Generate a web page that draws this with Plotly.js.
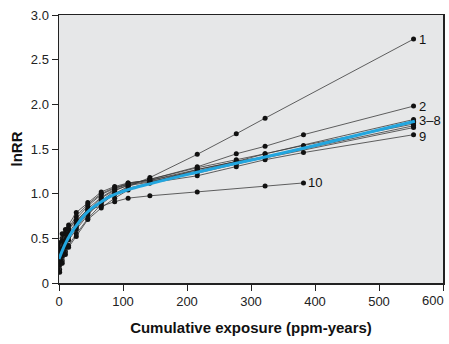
<!DOCTYPE html>
<html>
<head>
<meta charset="utf-8">
<script src="https://cdn.plot.ly/plotly-3.0.1.min.js"></script>
<style>html,body{margin:0;padding:0;background:#fff;}#chart{width:449px;height:344px;}</style>
</head>
<body>
<div id="chart"></div>
<script>
// Exposure points (ppm-years) for each line
const xFull   = [1, 5, 10, 15, 27, 45, 66, 87, 108, 142, 216, 277, 322, 554];
const xWith382 = [1, 5, 10, 15, 27, 45, 66, 87, 108, 142, 216, 277, 322, 382, 554];
const x10     = [1, 5, 10, 15, 27, 45, 66, 87, 108, 142, 216, 322, 382];

// lnRR values
const line1  = [0.15, 0.25, 0.35, 0.42, 0.55, 0.72, 0.88, 1.00, 1.08, 1.18, 1.44, 1.67, 1.845, 2.73];
const line2  = [0.20, 0.30, 0.40, 0.48, 0.60, 0.76, 0.92, 1.03, 1.10, 1.16, 1.30, 1.446, 1.53, 1.66, 1.98];
const line3  = [0.30, 0.40, 0.50, 0.56, 0.68, 0.83, 0.96, 1.05, 1.11, 1.16, 1.29, 1.38, 1.446, 1.83];
const line4  = [0.35, 0.45, 0.52, 0.60, 0.72, 0.86, 0.99, 1.06, 1.12, 1.15, 1.27, 1.36, 1.41, 1.80];
const line5  = [0.25, 0.35, 0.45, 0.52, 0.65, 0.80, 0.95, 1.04, 1.09, 1.13, 1.25, 1.36, 1.446, 1.54, 1.78];
const line6  = [0.40, 0.50, 0.56, 0.62, 0.75, 0.88, 1.00, 1.07, 1.10, 1.14, 1.23, 1.33, 1.41, 1.76];
const line7  = [0.12, 0.22, 0.32, 0.40, 0.52, 0.71, 0.84, 0.95, 1.04, 1.12, 1.27, 1.36, 1.41, 1.81];
const line8  = [0.45, 0.55, 0.60, 0.65, 0.79, 0.90, 1.02, 1.08, 1.12, 1.15, 1.25, 1.34, 1.40, 1.74];
const line9  = [0.28, 0.38, 0.47, 0.54, 0.62, 0.78, 0.90, 1.00, 1.06, 1.12, 1.20, 1.30, 1.38, 1.46, 1.66];
const line10 = [0.38, 0.47, 0.55, 0.60, 0.70, 0.82, 0.86, 0.91, 0.95, 0.976, 1.02, 1.085, 1.12];

// Fitted (blue) curve
const fitX = [0, 5, 10, 15, 20, 30, 40, 50, 60, 75, 90, 110, 142, 180, 216, 277, 322, 400, 480, 556];
const fitY = [0.27, 0.36, 0.44, 0.51, 0.57, 0.67, 0.76, 0.83, 0.88, 0.95, 1.00, 1.05, 1.11, 1.18, 1.24, 1.34, 1.41, 1.54, 1.68, 1.81];

const labels = ["1", "2", "3–8", "9", "10"];
const labelX = [554, 554, 554, 554, 382];
const labelY = [2.73, 1.98, 1.82, 1.64, 1.12];

const xTicks = [0, 100, 200, 300, 400, 500, 600];
const xTickText = ["0", "100", "200", "300", "400", "500", ""];
const lastXTick = "600";
const yTicks = [0, 0.5, 1.0, 1.5, 2.0, 2.5, 3.0];
const yTickText = ["0", "0.5", "1.0", "1.5", "2.0", "2.5", "3.0"];

const FONT = '"Liberation Sans", Arial, sans-serif';

const series = [
  [xFull, line1], [xWith382, line2], [xFull, line3], [xFull, line4], [xWith382, line5],
  [xFull, line6], [xFull, line7], [xFull, line8], [xWith382, line9], [x10, line10]
];

const traces = series.map(([xs, ys]) => ({
  x: xs, y: ys, type: 'scatter', mode: 'lines+markers',
  line: {color: '#3a3a3a', width: 0.8},
  marker: {color: '#111', size: 5},
  hoverinfo: 'skip', showlegend: false
}));

traces.push({
  x: fitX, y: fitY, type: 'scatter', mode: 'lines',
  line: {color: '#22a6df', width: 3, shape: 'spline', smoothing: 0.8},
  showlegend: false, hoverinfo: 'skip'
});

const annotations = labels.map((t, i) => ({
  x: labelX[i], y: labelY[i], xref: 'x', yref: 'y', text: t,
  showarrow: false, xanchor: 'left', yanchor: 'middle', xshift: 3,
  font: {family: FONT, size: 13, color: '#111'}
}));
// last x tick label, kept inside the picture as in the reference
annotations.push({
  x: 600, y: 0, xref: 'x', yref: 'paper', text: lastXTick,
  showarrow: false, xanchor: 'right', yanchor: 'top', xshift: 3, yshift: -8,
  font: {family: FONT, size: 13, color: '#222'}
});

const layout = {
  width: 449, height: 344,
  margin: {l: 59, r: 6, t: 15, b: 61},
  paper_bgcolor: '#ffffff',
  plot_bgcolor: '#e6e7e8',
  showlegend: false,
  xaxis: {
    range: [0, 600], tickvals: xTicks, ticktext: xTickText,
    showgrid: false, zeroline: false,
    showline: true, linecolor: '#222', linewidth: 1.5, mirror: true,
    ticks: 'outside', ticklen: 6, tickcolor: '#222', tickwidth: 1,
    tickfont: {family: FONT, size: 13, color: '#222'},
    title: {text: '<b>Cumulative exposure (ppm-years)</b>', standoff: 14,
            font: {family: FONT, size: 15, color: '#111'}}
  },
  yaxis: {
    range: [0, 3], tickvals: yTicks, ticktext: yTickText,
    showgrid: false, zeroline: false,
    showline: true, linecolor: '#222', linewidth: 1.5, mirror: true,
    ticks: 'outside', ticklen: 6, tickcolor: '#222', tickwidth: 1,
    tickfont: {family: FONT, size: 13, color: '#222'},
    title: {text: '<b>lnRR</b>', standoff: 4,
            font: {family: FONT, size: 15, color: '#111'}}
  },
  annotations: annotations
};

Plotly.newPlot('chart', traces, layout, {displayModeBar: false, staticPlot: true});
</script>
</body>
</html>
